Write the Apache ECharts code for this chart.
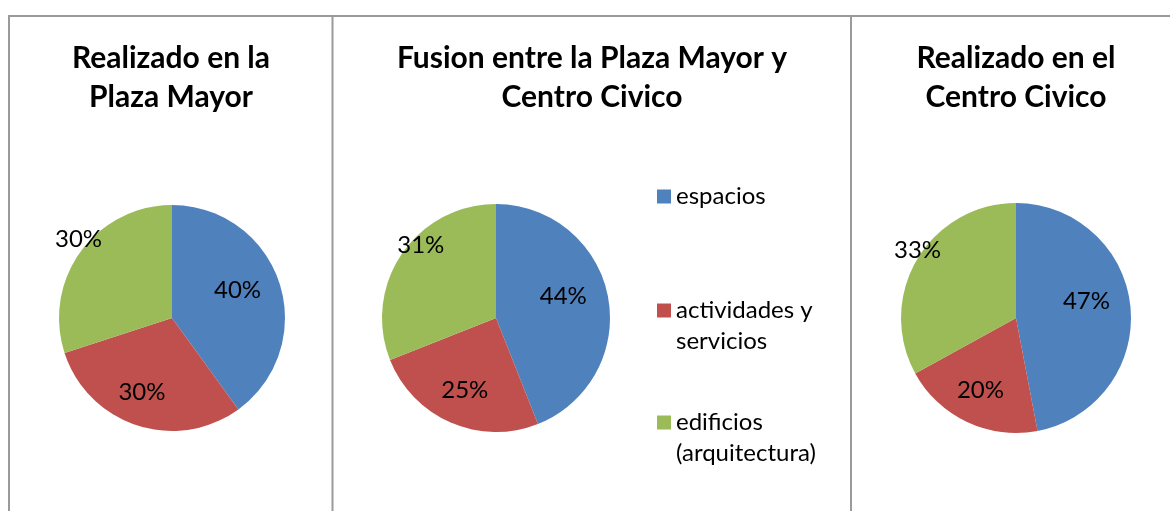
<!DOCTYPE html>
<html lang="es">
<head>
<meta charset="UTF-8">
<title>Plaza Mayor / Centro Civico</title>
<script src="https://cdn.jsdelivr.net/npm/echarts@6/dist/echarts.min.js"></script>
<style>
  html, body { margin: 0; padding: 0; background: #fff; overflow: hidden; }
</style>
</head>
<body>
<div id="main" style="width:1170px;height:511px;"></div>
<script>
// data
const categories = ['espacios', 'actividades y servicios', 'edificios (arquitectura)'];
const legendLabels = ['espacios', 'actividades y\nservicios', 'edificios\n(arquitectura)'];
const chartTitles = ['Realizado en la\nPlaza Mayor', 'Fusion entre la Plaza Mayor y\nCentro Civico', 'Realizado en el\nCentro Civico'];
const plazaMayor = [40, 30, 30];
const fusion = [44, 25, 31];
const centroCivico = [47, 20, 33];

const colors = ['#4F81BD', '#C0504D', '#9BBB59'];
const font = 'Lato, "Open Sans", sans-serif';

// layout of each pie (px) and where Excel put its labels: [radius factor, angle shift in deg]
const pies = [
  { values: plazaMayor, center: [172, 318], r: 113, titleX: 171,
    labelPos: [[0.63, 5], [0.71, -4], [1.08, -4]] },
  { values: fusion, center: [496, 318], r: 114, titleX: 592,
    labelPos: [[0.62, 7], [0.69, 0], [0.92, -10]] },
  { values: centroCivico, center: [1016, 318], r: 115, titleX: 1016,
    labelPos: [[0.63, 8], [0.70, -1], [1.04, -4]] }
];

// mid angle of each slice, start at 12 o'clock, clockwise
function midAngles(vals) {
  const total = vals.reduce((a, b) => a + b, 0);
  let cum = 0;
  return vals.map(v => {
    const a = 90 - (cum + v / 2) / total * 360;
    cum += v;
    return a;
  });
}

const series = pies.map((p, si) => {
  const mids = midAngles(p.values);
  return {
    type: 'pie',
    center: p.center,
    radius: p.r,
    startAngle: 90,
    clockwise: true,
    avoidLabelOverlap: false,
    data: categories.map((name, i) => ({ name: name, value: p.values[i] })),
    itemStyle: { borderWidth: 0 },
    emphasis: { disabled: true },
    label: {
      show: true,
      position: 'inside',
      formatter: '{c}%',
      color: '#000',
      fontFamily: font,
      fontSize: 24
    },
    labelLine: { show: false },
    labelLayout: function (params) {
      const lp = p.labelPos[params.dataIndex];
      const a = (mids[params.dataIndex] + lp[1]) * Math.PI / 180;
      return {
        x: p.center[0] + lp[0] * p.r * Math.cos(a),
        y: p.center[1] - lp[0] * p.r * Math.sin(a),
        align: 'center',
        verticalAlign: 'middle'
      };
    }
  };
});

const titles = pies.map((p, i) => ({
  text: chartTitles[i],
  left: p.titleX,
  top: 39,
  textAlign: 'center',
  padding: 0,
  textStyle: { fontFamily: font, fontSize: 30, fontWeight: 'bold', color: '#000', lineHeight: 39 }
}));

// one legend per entry so each can sit where Excel put it.
// two-line names get an empty line on top so the square lines up with the first line
const legendTops = [181, 264, 376];
const legends = categories.map((name, i) => ({
  data: [name],
  orient: 'vertical',
  left: 657,
  top: legendTops[i],
  padding: 0,
  icon: 'rect',
  itemWidth: 14,
  itemHeight: 14,
  selectedMode: false,
  formatter: n => {
    const t = legendLabels[categories.indexOf(n)];
    return t.indexOf('\n') >= 0 ? '\n' + t : t;
  },
  textStyle: { fontFamily: font, fontSize: 24, color: '#000', lineHeight: 31 }
}));

// table borders around the three charts
const borderStyle = { stroke: '#9a9a9a', lineWidth: 2 };
const graphic = [
  { type: 'line', shape: { x1: 8, y1: 16, x2: 1170, y2: 16 }, style: borderStyle, silent: true },
  { type: 'line', shape: { x1: 9, y1: 16, x2: 9, y2: 511 }, style: borderStyle, silent: true },
  { type: 'line', shape: { x1: 332.5, y1: 16, x2: 332.5, y2: 511 }, style: borderStyle, silent: true },
  { type: 'line', shape: { x1: 851, y1: 16, x2: 851, y2: 511 }, style: borderStyle, silent: true }
];

const chart = echarts.init(document.getElementById('main'));
chart.setOption({
  animation: false,
  color: colors,
  title: titles,
  legend: legends,
  graphic: graphic,
  series: series
});
</script>
</body>
</html>
